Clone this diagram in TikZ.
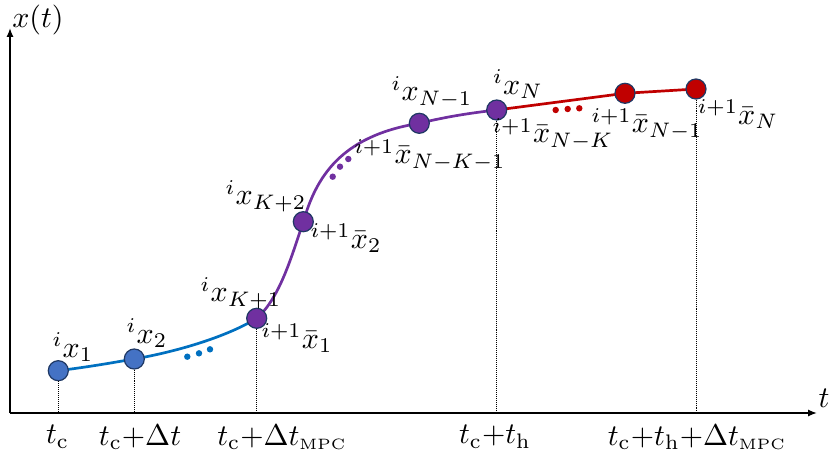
\documentclass[tikz,border=0pt]{standalone}
\usetikzlibrary{arrows.meta}
\definecolor{cblue}{HTML}{0070C0}
\definecolor{fblue}{HTML}{4472C4}
\definecolor{cpurple}{HTML}{7030A0}
\definecolor{cred}{HTML}{C00000}
\definecolor{cnavy}{HTML}{1F3864}
\tikzset{
  axis/.style={line width=0.55pt,-{Latex[length=3pt,width=2.4pt]}},
  traj/.style={line width=0.9pt},
  pt/.style={circle,draw=cnavy,line width=0.4pt,minimum size=6.67pt,inner sep=0pt},
  lbl/.style={inner sep=0pt,font=\normalsize},
  tick/.style={inner sep=0pt,font=\normalsize},
  guide/.style={line width=0.33pt,dash pattern=on 0.33pt off 0.33pt},
}
\begin{document}
\begin{tikzpicture}[x=0.33333pt,y=-0.33333pt]
\useasboundingbox (0,0) rectangle (830,452);
% axes
\coordinate (O) at (10,413);
\coordinate (xend) at (817,413);
\coordinate (yend) at (10,28);
\draw[axis] (O) -- (xend);
\draw[axis] (O) -- (yend);
\node[tick] (xlab) at (38,20) {$x(t)$};
\node[tick] (tlab) at (824,398) {$t$};
% point positions
\coordinate (p1) at (58.3,370.7);
\coordinate (p2) at (134.3,359);
\coordinate (p3) at (256.7,318.3);
\coordinate (p4) at (303.3,221.7);
\coordinate (p5) at (419.3,123.3);
\coordinate (p6) at (496.7,110);
\coordinate (p7) at (625,93.3);
\coordinate (p8) at (696,89);
% trajectories
\draw[traj,cblue] (p1) .. controls (95,366) and (110,363) .. (p2)
  .. controls (180,351) and (228,336) .. (p3);
\draw[traj,cpurple] (p3) .. controls (280,298) and (292,255) .. (p4)
  .. controls (316,178) and (340,136) .. (p5)
  .. controls (445,117) and (470,113) .. (p6);
\draw[traj,cred] (p6) -- (p7) -- (p8);
% ellipsis dots
\fill[cblue] (187.3,356.7) circle (1.07pt) (199,353.3) circle (1.07pt) (210,349.3) circle (1.07pt);
\fill[cpurple] (332.7,176.7) circle (1.07pt) (340,166.7) circle (1.07pt) (348.3,159) circle (1.07pt);
\fill[cred] (555.7,110) circle (1.07pt) (567.7,109) circle (1.07pt) (579.3,108.3) circle (1.07pt);
% points
\node[pt,fill=fblue] (n1) at (p1) {};
\node[pt,fill=fblue] (n2) at (p2) {};
\node[pt,fill=cpurple] (n3) at (p3) {};
\node[pt,fill=cpurple] (n4) at (p4) {};
\node[pt,fill=cpurple] (n5) at (p5) {};
\node[pt,fill=cpurple] (n6) at (p6) {};
\node[pt,fill=cred] (n7) at (p7) {};
\node[pt,fill=cred] (n8) at (p8) {};
% guides
\draw[guide] (n1.south) -- (n1 |- O);
\draw[guide] (n2.south) -- (n2 |- O);
\draw[guide] (n3.south) -- (n3 |- O);
\draw[guide] (n6.south) -- (n6 |- O);
\draw[guide] (n8.south) -- (n8 |- O);
% point labels
\node[lbl] (l1) at (73,347) {${}^{i}x_{1}$};
\node[lbl] (l2) at (147,333) {${}^{i}x_{2}$};
\node[lbl] (l3) at (241,293) {${}^{i}x_{K+1}$};
\node[lbl] (l3b) at (297,338) {${}^{i+1}\bar{x}_{1}$};
\node[lbl] (l4) at (266,196) {${}^{i}x_{K+2}$};
\node[lbl] (l4b) at (346,238) {${}^{i+1}\bar{x}_{2}$};
\node[lbl] (l5b) at (430,155) {${}^{i+1}\bar{x}_{N-K-1}$};
\node[lbl] (l5) at (432,92) {${}^{i}x_{N-1}$};
\node[lbl] (l6) at (518,84) {${}^{i}x_{N}$};
\node[lbl] (l6b) at (553,134) {${}^{i+1}\bar{x}_{N-K}$};
\node[lbl] (l7b) at (647,124) {${}^{i+1}\bar{x}_{N-1}$};
\node[lbl] (l8b) at (738,114) {${}^{i+1}\bar{x}_{N}$};
% tick labels
\node[tick] (t1) at (57.5,437) {$t_{\mathrm{c}}$};
\node[tick] (t2) at (140,437) {$t_{\mathrm{c}}{+}\Delta t$};
\node[tick] (t3) at (282,437) {$t_{\mathrm{c}}{+}\Delta t_{\scriptscriptstyle\mathrm{MPC}}$};
\node[tick] (t4) at (495,437) {$t_{\mathrm{c}}{+}t_{\mathrm{h}}$};
\node[tick] (t5) at (697,437) {$t_{\mathrm{c}}{+}t_{\mathrm{h}}{+}\Delta t_{\scriptscriptstyle\mathrm{MPC}}$};
\end{tikzpicture}
\end{document}
